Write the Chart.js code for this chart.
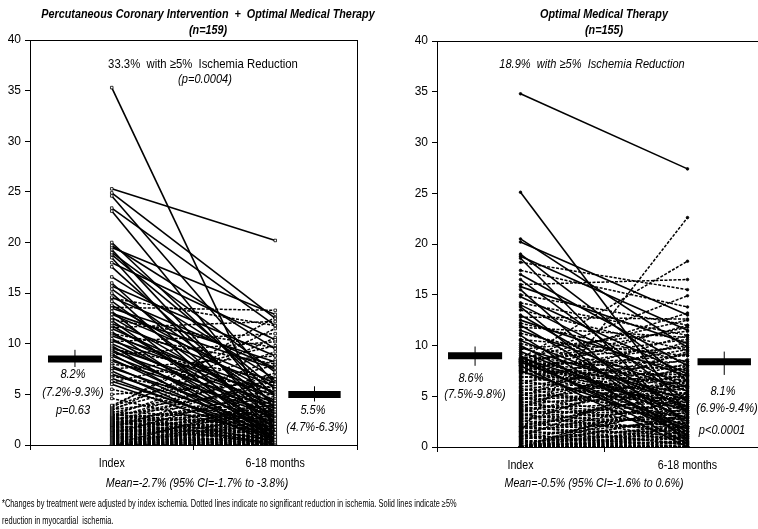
<!DOCTYPE html>
<html>
<head>
<meta charset="utf-8">
<script src="https://cdn.jsdelivr.net/npm/chart.js@4.4.0/dist/chart.umd.min.js"></script>
<style>
html,body{margin:0;padding:0;background:#fff;overflow:hidden;width:758px;height:529px}
#wrap{position:relative;width:758px;height:529px;overflow:hidden}
.panel{position:absolute;top:0}
#note{position:absolute;left:2px;top:495px;font-family:'Liberation Sans',Arial,sans-serif;font-size:10.5px;line-height:17px;color:#000;white-space:nowrap;transform:scaleX(0.705);transform-origin:0 0}
</style>
</head>
<body>
<div id="wrap">
  <div class="panel" style="left:0;width:380px;height:500px"><canvas id="pci"></canvas></div>
  <div class="panel" style="left:407px;width:380px;height:502px"><canvas id="omt"></canvas></div>
  <div id="note">*Changes by treatment were adjusted by index ischemia. Dotted lines indicate no significant reduction in ischemia. Solid lines indicate ≥5%<br>reduction in myocardial&nbsp; ischemia.</div>
</div>
<script>
// valores (isquemia %, index -> 6-18 meses)
const xLabels = ["Index", "6-18 months"];
const yMin = 0, yMax = 40, yStep = 5;

// PCI + OMT (n=159)
const pciIndex = [
  35.3,25.3,24.9,24.6,23.4,23.1,20.0,19.7,19.5,19.3,19.0,18.8,18.5,18.0,17.6,16.6,16.0,15.7,15.4,15.0,
  14.6,14.2,13.8,13.5,13.2,12.9,12.6,12.3,12.0,11.8,11.5,11.2,11.0,10.8,10.5,10.3,10.0,9.8,9.6,9.4,
  9.2,9.0,8.8,8.5,8.3,7.8,7.6,7.3,7.0,6.6,6.3,6.0,13.0,
  14.5,13.6,12.4,11.6,11.0,10.2,9.5,8.9,8.0,7.5,6.8,6.2,5.5,5.0,4.6,
  3.9,3.8,3.7,3.6,3.5,3.4,3.3,3.2,3.1,3.0,3.0,
  2.9,2.9,2.8,2.8,2.7,2.7,2.6,2.6,2.5,2.5,2.4,2.4,2.3,2.3,2.2,2.2,2.1,2.1,
  2.0,2.0,2.0,1.9,1.9,1.8,1.8,1.7,1.7,1.6,1.6,1.5,1.5,1.5,1.4,1.4,1.3,1.3,1.2,1.2,1.1,1.1,
  1.0,1.0,1.0,0.9,0.9,0.8,0.8,0.7,0.7,0.6,0.6,0.5,0.5,0.4,0.4,0.3,0.3,0.2,0.2,0.1,0.1,
  0,0,0,0,0,0,0,0,0,0,0,0,0,0,0,0,0,0,0
];
const pciFollow = [
  1.2,20.2,12.5,6.0,11.8,3.5,4.8,9.5,12.9,2.1,7.2,5.5,0.8,10.4,3.0,6.5,1.5,8.8,4.1,0.5,
  7.6,2.6,5.0,8.2,0.3,6.1,3.3,1.0,5.8,2.4,4.4,0.6,3.8,5.2,1.8,4.9,2.9,0.4,4.2,1.3,
  3.6,0.2,2.7,1.1,3.1,0.9,2.2,0.0,1.6,0.7,1.2,0.5,7.5,
  11.8,13.3,9.6,12.2,8.0,11.0,6.5,10.2,5.6,8.8,4.0,9.8,2.0,6.2,1.0,
  11.5,9.2,12.6,7.9,5.3,10.6,2.5,6.8,0.4,4.6,1.8,
  8.4,3.0,0.1,5.9,2.2,7.1,0.9,3.9,1.4,4.3,0.0,6.3,2.8,1.1,3.4,0.6,5.1,1.9,
  0.3,3.7,2.4,0.8,4.8,1.6,0.2,2.9,6.6,0.5,3.2,1.2,0.0,4.0,2.1,0.7,1.5,3.6,0.1,2.6,0.9,5.6,
  0.0,1.8,3.1,0.4,2.3,1.0,0.0,2.7,0.3,1.4,0.0,3.5,0.6,0.0,1.7,0.2,2.0,0.0,0.8,0.0,1.3,
  0.0,0.5,2.5,0.0,1.0,4.4,0.2,0.0,3.0,0.7,0.0,1.6,0.0,0.4,0.0,2.2,0.0,0.9,0.0
];
const pciMean = [8.5, 5.0];
const pciLow = [7.7, 4.3];
const pciHigh = [9.4, 5.8];

// OMT (n=155)
const omtIndex = [
  34.8,25.1,20.5,20.2,19.0,18.8,18.6,17.0,16.5,15.8,15.5,14.8,14.0,13.8,13.0,12.5,12.0,11.5,11.0,10.5,
  10.0,9.8,9.4,9.0,8.8,8.6,8.4,8.0,7.5,
  18.2,17.4,16.0,15.0,14.2,13.5,12.8,12.2,11.8,11.2,10.6,10.2,9.6,9.2,1.5,8.7,
  8.7,8.6,8.6,8.5,8.5,8.4,8.4,8.3,8.3,8.2,8.2,8.1,8.0,8.0,7.9,7.8,7.7,7.6,7.5,7.4,
  7.3,7.2,7.0,6.9,6.8,6.6,6.5,6.3,6.2,6.0,5.9,5.8,5.6,5.5,5.4,5.2,5.1,5.0,4.9,4.8,
  4.7,4.6,4.5,4.4,4.3,4.2,4.1,4.0,3.9,3.8,3.7,3.6,3.5,3.4,3.3,3.2,3.1,3.0,2.9,2.8,
  2.7,2.6,2.5,2.4,2.3,2.2,2.1,2.0,2.0,1.9,1.8,1.7,1.6,1.5,1.4,1.3,1.2,1.1,1.0,1.0,
  0.9,0.8,0.7,0.6,0.5,0.4,0.3,0.2,0.1,
  0,0,0,0,0,0,0,0,0,0,0,0,0,0,0,0,0,0,0,0,0
];
const omtFollow = [
  27.4,3.2,9.8,13.0,6.5,11.5,2.0,8.0,4.5,10.2,1.0,7.2,5.8,0.5,3.6,7.0,2.5,5.5,0.8,4.0,
  1.5,4.6,2.8,0.3,3.5,1.2,2.0,0.0,1.8,
  15.5,13.8,16.5,12.0,11.0,9.5,12.6,8.4,10.8,7.5,9.0,6.4,11.4,6.0,22.6,18.3,
  12.5,9.8,5.2,14.9,7.6,4.0,10.6,6.8,3.6,11.8,8.4,5.9,13.2,4.8,9.0,6.2,3.9,10.0,7.1,5.0,
  12.0,8.0,4.4,6.6,9.6,3.8,7.4,5.6,11.0,4.6,8.6,2.9,6.0,9.2,3.4,7.0,4.8,10.4,2.6,6.4,
  5.2,8.2,1.8,4.9,7.8,3.0,6.0,2.0,9.4,4.4,1.2,5.8,3.3,7.2,0.8,4.2,2.4,6.6,1.5,3.6,
  5.0,0.6,2.8,8.0,1.9,4.0,0.2,3.0,5.4,1.1,2.3,6.2,0.4,3.4,1.6,4.6,0.0,2.6,1.0,7.0,
  0.3,2.0,3.8,0.8,1.4,0.0,2.9,0.5,1.8,
  0.0,4.2,1.2,0.0,2.4,0.6,0.0,3.2,0.0,1.5,0.2,0.0,5.0,0.9,0.0,2.0,0.0,0.4,0.0,1.0,0.0
];
const omtMean = [9.0, 8.4];
const omtLow = [8.0, 7.1];
const omtHigh = [9.9, 9.4];

const FONT = "'Liberation Sans',Arial,sans-serif";

function lineSets(idx, fu, marker) {
  return idx.map((v, i) => {
    const solid = v - fu[i] >= 5;
    return {
      data: [{x: 0.5, y: v}, {x: 1.5, y: fu[i]}],
      borderColor: "#000",
      borderWidth: solid ? 1.6 : 1.5,
      borderDash: solid ? [] : [3, 1.5],
      pointStyle: marker.style,
      pointRadius: marker.r,
      pointBackgroundColor: marker.fill,
      pointBorderColor: "#000",
      pointBorderWidth: 0.8,
      order: solid ? 1 : 2
    };
  });
}

function meanSets(mean, low, high, pos) {
  // barra gruesa + linea del IC
  const out = [];
  for (let k = 0; k < 2; k++) {
    const p = pos[k];
    out.push({data: [{x: p[0], y: mean[k]}, {x: p[1], y: mean[k]}], borderColor: "#000", borderWidth: 7, borderCapStyle: "butt", pointRadius: 0, order: 0});
    out.push({data: [{x: (p[0] + p[1]) / 2, y: low[k]}, {x: (p[0] + p[1]) / 2, y: high[k]}], borderColor: "#000", borderWidth: 1, pointRadius: 0, order: 0});
  }
  return out;
}

function narrowText(ctx, t, x, y, sx) {
  ctx.save();
  ctx.translate(x, y);
  ctx.scale(sx, 1);
  ctx.fillText(t, 0, 0);
  ctx.restore();
}

const textPlugin = {
  id: "textos",
  afterDraw(chart, args, opts) {
    const ctx = chart.ctx;
    const a = chart.chartArea;
    ctx.save();
    ctx.strokeStyle = "#000";
    ctx.lineWidth = 1;
    ctx.strokeRect(Math.round(a.left) + 0.5, Math.round(a.top) + 0.5, Math.round(a.right - a.left), Math.round(a.bottom - a.top));
    ctx.fillStyle = "#000";
    ctx.textAlign = "center";
    ctx.textBaseline = "middle";
    // etiquetas del eje x, estrechas
    const xs = chart.scales.x;
    ctx.font = "13px " + FONT;
    narrowText(ctx, xLabels[0], xs.getPixelForValue(0.5), a.bottom + 18, 0.82);
    narrowText(ctx, xLabels[1], xs.getPixelForValue(1.5), a.bottom + 18, 0.82);
    opts.items.forEach(t => {
      ctx.font = (t.f || "italic 13px") + " " + FONT;
      narrowText(ctx, t.t, t.x, t.y, t.s || 0.85);
    });
    ctx.restore();
  }
};

function makePanel(id, idx, fu, marker, mean, low, high, pos, items, top) {
  new Chart(document.getElementById(id), {
    type: "line",
    data: {datasets: meanSets(mean, low, high, pos).concat(lineSets(idx, fu, marker))},
    options: {
      responsive: true,
      maintainAspectRatio: false,
      animation: false,
      events: [],
      layout: {padding: {top: top, right: id == "pci" ? 23 : 16, bottom: 25, left: 0}},
      plugins: {legend: {display: false}, tooltip: {enabled: false}, textos: {items: items}},
      scales: {
        x: {
          type: "linear", min: 0, max: 2,
          afterBuildTicks: s => { s.ticks = [0, 0.5, 1, 1.5, 2].map(v => ({value: v})); },
          afterFit: s => { s.height = 30; },
          ticks: {
            autoSkip: false, maxRotation: 0, padding: 5, color: "rgba(0,0,0,0)",
            font: {family: FONT, size: 12},
            callback: v => v == 0.5 ? xLabels[0] : (v == 1.5 ? xLabels[1] : "")
          },
          grid: {drawOnChartArea: false, tickLength: 5, tickColor: c => (c.tick && c.tick.value % 1 === 0) ? "#000" : "rgba(0,0,0,0)"},
          border: {color: "#000", width: 1}
        },
        y: {
          min: yMin, max: yMax,
          afterFit: s => { s.width = 30; },
          ticks: {stepSize: yStep, padding: 4, color: "#000", font: {family: FONT, size: 12}},
          grid: {drawOnChartArea: false, tickLength: 5, tickColor: "#000"},
          border: {color: "#000", width: 1}
        }
      }
    },
    plugins: [textPlugin]
  });
}

makePanel("pci", pciIndex, pciFollow, {style: "rect", r: 1.8, fill: "#fff"},
  pciMean, pciLow, pciHigh, [[0.11, 0.44], [1.58, 1.90]], [
    {t: "Percutaneous Coronary Intervention  +  Optimal Medical Therapy", x: 208, y: 14, f: "italic bold 13.5px", s: 0.8},
    {t: "(n=159)", x: 208, y: 30, f: "italic bold 13.5px", s: 0.8},
    {t: "33.3%  with \u22655%  Ischemia Reduction", x: 203, y: 64, f: "13px", s: 0.87},
    {t: "(p=0.0004)", x: 205, y: 79},
    {t: "8.2%", x: 73, y: 374},
    {t: "(7.2%-9.3%)", x: 73, y: 392},
    {t: "p=0.63", x: 73, y: 410},
    {t: "5.5%", x: 313, y: 410},
    {t: "(4.7%-6.3%)", x: 317, y: 427},
    {t: "Mean=-2.7% (95% CI=-1.7% to -3.8%)", x: 197, y: 483, s: 0.82}
  ], 40);

makePanel("omt", omtIndex, omtFollow, {style: "circle", r: 1.3, fill: "#000"},
  omtMean, omtLow, omtHigh, [[0.066, 0.39], [1.56, 1.88]], [
    {t: "Optimal Medical Therapy", x: 197, y: 14, f: "italic bold 13.5px", s: 0.8},
    {t: "(n=155)", x: 197, y: 30, f: "italic bold 13.5px", s: 0.8},
    {t: "18.9%  with \u22655%  Ischemia Reduction", x: 185, y: 64, s: 0.85},
    {t: "8.6%", x: 64, y: 378},
    {t: "(7.5%-9.8%)", x: 68, y: 394},
    {t: "8.1%", x: 316, y: 391},
    {t: "(6.9%-9.4%)", x: 320, y: 408},
    {t: "p<0.0001", x: 315, y: 430},
    {t: "Mean=-0.5% (95% CI=-1.6% to 0.6%)", x: 187, y: 483, s: 0.82}
  ], 41);
</script>
</body>
</html>
